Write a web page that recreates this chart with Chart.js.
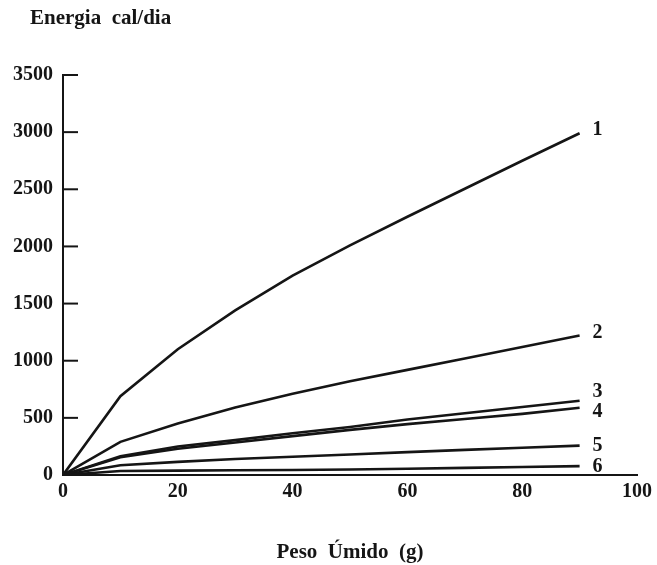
<!DOCTYPE html>
<html>
<head>
<meta charset="utf-8">
<script src="https://cdn.jsdelivr.net/npm/chart.js@4"></script>
<style>
    html, body { margin: 0; padding: 0; background: #fff; }
    #wrap { width: 657px; height: 565px; position: relative; }
</style>
</head>
<body>
<div id="wrap"><canvas id="grafico"></canvas></div>
<script>
// peso úmido (g) e energia (cal/dia) de cada curva
const pesos = [0, 10, 20, 30, 40, 50, 60, 70, 80, 90];
const curva1 = [0, 690, 1100, 1440, 1745, 2010, 2260, 2505, 2750, 2990];
const curva2 = [0, 290, 450, 590, 710, 820, 920, 1020, 1120, 1220];
const curva3 = [0, 165, 250, 305, 365, 420, 485, 540, 595, 650];
const curva4 = [0, 155, 230, 285, 340, 395, 445, 490, 535, 588];
const curva5 = [0, 85, 115, 140, 160, 180, 200, 220, 238, 257];
const curva6 = [0, 35, 38, 41, 44, 48, 55, 62, 70, 78];
const rotulos = ['1', '2', '3', '4', '5', '6'];
const deslocY = [-3, -3, -9, 4, 0, 1];

const tinta = '#151515';
const familia = '"Liberation Serif", "DejaVu Serif", serif';
const fonteNum = { family: familia, size: 20, weight: 'bold' };
const fonteTit = { family: familia, size: 21, weight: 'bold' };

const series = [curva1, curva2, curva3, curva4, curva5, curva6];

const datasets = series.map((s, i) => ({
    label: rotulos[i],
    data: pesos.map((x, k) => ({ x: x, y: s[k] })),
    borderColor: tinta,
    borderWidth: 2.6,
    pointRadius: 0,
    tension: 0,
    fill: false
}));

// marcas do eixo y voltadas para dentro
const marcasY = {
    id: 'marcasY',
    afterDraw(chart) {
        const { ctx, scales: { y } } = chart;
        ctx.save();
        ctx.strokeStyle = tinta;
        ctx.lineWidth = 2;
        y.ticks.forEach(t => {
            const py = y.getPixelForValue(t.value);
            ctx.beginPath();
            ctx.moveTo(y.right, py);
            ctx.lineTo(y.right + 15, py);
            ctx.stroke();
        });
        ctx.restore();
    }
};

// número de cada curva ao lado do último ponto
const numeros = {
    id: 'numeros',
    afterDatasetsDraw(chart) {
        const ctx = chart.ctx;
        ctx.save();
        ctx.fillStyle = tinta;
        ctx.font = `bold 20px ${familia}`;
        ctx.textBaseline = 'middle';
        ctx.textAlign = 'left';
        chart.data.datasets.forEach((ds, i) => {
            const pts = chart.getDatasetMeta(i).data;
            const ult = pts[pts.length - 1];
            ctx.fillText(ds.label, ult.x + 13, ult.y + deslocY[i]);
        });
        ctx.restore();
    }
};

// título do eixo y, na horizontal acima do eixo
const tituloY = {
    id: 'tituloY',
    afterDraw(chart) {
        const ctx = chart.ctx;
        ctx.save();
        ctx.fillStyle = tinta;
        ctx.font = `bold 21px ${familia}`;
        ctx.textBaseline = 'middle';
        ctx.textAlign = 'left';
        ctx.fillText('Energia  cal/dia', 30, 19);
        ctx.restore();
    }
};

new Chart(document.getElementById('grafico'), {
    type: 'line',
    data: { datasets: datasets },
    options: {
        responsive: true,
        maintainAspectRatio: false,
        animation: false,
        layout: { padding: { top: 75, right: 17, left: 0, bottom: 0 } },
        plugins: {
            legend: { display: false },
            tooltip: { enabled: false }
        },
        scales: {
            x: {
                type: 'linear',
                min: 0,
                max: 100,
                ticks: {
                    stepSize: 20, color: tinta, font: fonteNum, padding: 5, maxRotation: 0,
                    callback: v => String(v)
                },
                grid: { display: false, drawTicks: false },
                border: { display: true, color: tinta, width: 2 },
                title: {
                    display: true,
                    text: 'Peso  Úmido  (g)',
                    color: tinta,
                    font: fonteTit,
                    padding: { top: 34, bottom: 0 }
                },
                afterFit(scale) { scale.height = 90; }
            },
            y: {
                min: 0,
                max: 3500,
                ticks: {
                    stepSize: 500, color: tinta, font: fonteNum, padding: 10,
                    callback: v => String(v)
                },
                grid: { display: false, drawTicks: false },
                border: { display: true, color: tinta, width: 2 },
                afterFit(scale) { scale.width = 63; }
            }
        }
    },
    plugins: [marcasY, numeros, tituloY]
});
</script>
</body>
</html>
